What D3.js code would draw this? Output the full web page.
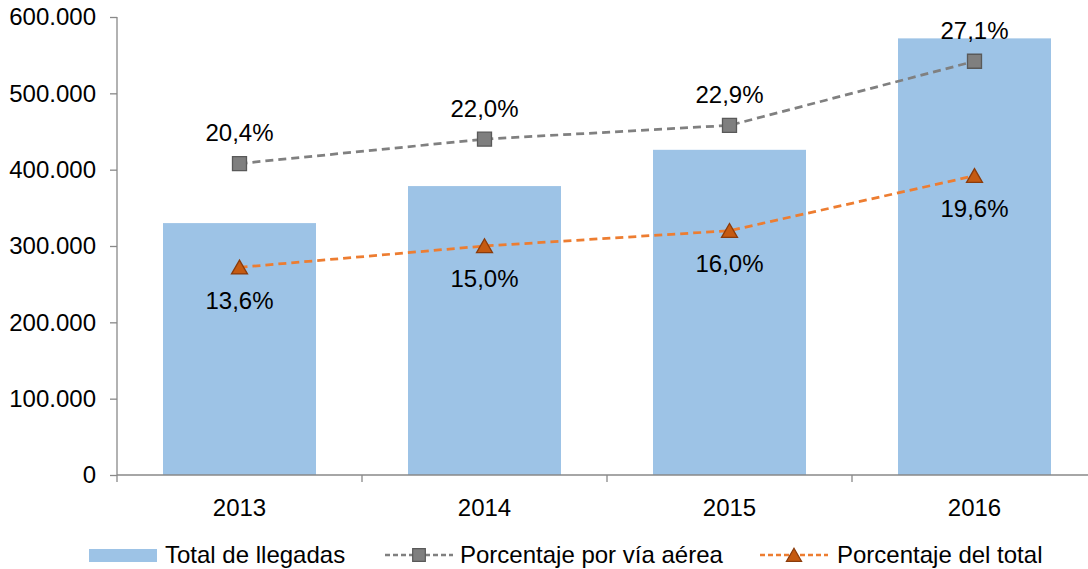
<!DOCTYPE html>
<html>
<head>
<meta charset="utf-8">
<script src="https://cdn.jsdelivr.net/npm/d3@7"></script>
<style>
  body { margin: 0; background: #fff; }
  svg { display: block; font-family: "Liberation Sans", Arial, sans-serif; }
</style>
</head>
<body>
<div id="chart"></div>
<script>
var w = 1088;
var h = 569;

var years = ["2013", "2014", "2015", "2016"];
var llegadas = [330000, 378500, 426000, 572000];
var viaAerea = [0.204, 0.220, 0.229, 0.271];
var delTotal = [0.136, 0.150, 0.160, 0.196];
var yTicks = [0, 100000, 200000, 300000, 400000, 500000, 600000];
var legendLabels = ["Total de llegadas", "Porcentaje por vía aérea", "Porcentaje del total"];

var padLeft = 117, padRight = 1097, padTop = 17, padBottom = 475;

var fmtNum = function(d) { return d3.format(",")(d).replace(/,/g, "."); };
var fmtPct = function(d) { return (d * 100).toFixed(1).replace(".", ",") + "%"; };

var xScale = d3.scaleBand()
               .domain(years)
               .range([padLeft, padRight]);

var yScale = d3.scaleLinear()
               .domain([0, 600000])
               .range([padBottom, padTop]);

var y2Scale = d3.scaleLinear()
                .domain([0, 0.30])
                .range([padBottom, padTop]);

var barW = 153;
var cx = function(d) { return xScale(d) + xScale.bandwidth() / 2; };

var svg = d3.select("#chart")
            .append("svg")
            .attr("width", w)
            .attr("height", h);

// bars
svg.append("g")
   .selectAll("rect")
   .data(years)
   .enter()
   .append("rect")
   .attr("x", function(d) { return cx(d) - barW / 2; })
   .attr("y", function(d, i) { return yScale(llegadas[i]); })
   .attr("width", barW)
   .attr("height", function(d, i) { return padBottom - yScale(llegadas[i]); })
   .attr("fill", "#9DC3E6");

// axes
var yAxis = d3.axisLeft(yScale)
              .tickValues(yTicks)
              .tickFormat(fmtNum)
              .tickSize(7)
              .tickPadding(14);

var gy = svg.append("g")
   .attr("transform", "translate(" + padLeft + ",0)")
   .call(yAxis);

var xAxis = d3.axisBottom(xScale)
              .tickSize(0)
              .tickPadding(24);

var gx = svg.append("g")
   .attr("transform", "translate(0," + padBottom + ")")
   .call(xAxis);

// category boundary ticks
gx.selectAll(".bound")
  .data(d3.range(years.length + 1))
  .enter()
  .append("line")
  .attr("class", "bound")
  .attr("x1", function(i) { return padLeft + i * xScale.step(); })
  .attr("x2", function(i) { return padLeft + i * xScale.step(); })
  .attr("y1", 0)
  .attr("y2", 7)
  .attr("stroke", "#898989")
  .attr("stroke-width", 1.3);

[gx, gy].forEach(function(g) {
  g.selectAll(".domain").attr("stroke", "#898989").attr("stroke-width", 1.3);
  g.selectAll(".tick line").attr("stroke", "#898989").attr("stroke-width", 1.3);
  g.selectAll("text")
   .attr("fill", "#000")
   .style("font-size", "24px")
   .style("font-family", "'Liberation Sans', Arial, sans-serif");
});
gy.select(".domain").attr("d", "M0," + padBottom + "V" + padTop);
gx.select(".domain").attr("d", "M" + padLeft + ",0H" + padRight);

// lines
var series = [
  {vals: viaAerea, color: "#808080", fill: "#7F7F7F", stroke: "#595959", shape: d3.symbolSquare, size: 196, dy: -31, off: 0},
  {vals: delTotal, color: "#ED7D31", fill: "#C55A11", stroke: "#8A3B0B", shape: d3.symbolTriangle, size: 110, dy: 33, off: 2}
];

series.forEach(function(s) {
  var line = d3.line()
               .x(function(d, i) { return cx(years[i]); })
               .y(function(d) { return y2Scale(d); });

  svg.append("path")
     .datum(s.vals)
     .attr("d", line)
     .attr("fill", "none")
     .attr("stroke", s.color)
     .attr("stroke-width", 2.75)
     .attr("stroke-dasharray", "8,5");

  svg.append("g")
     .selectAll("path")
     .data(s.vals)
     .enter()
     .append("path")
     .attr("d", d3.symbol().type(s.shape).size(s.size))
     .attr("transform", function(d, i) {
       return "translate(" + cx(years[i]) + "," + (y2Scale(d) + s.off) + ")";
     })
     .attr("fill", s.fill)
     .attr("stroke", s.stroke)
     .attr("stroke-width", 1.3);

  svg.append("g")
     .selectAll("text")
     .data(s.vals)
     .enter()
     .append("text")
     .attr("x", function(d, i) { return cx(years[i]); })
     .attr("y", function(d) { return y2Scale(d) + s.dy; })
     .attr("dy", "0.35em")
     .attr("text-anchor", "middle")
     .style("font-size", "24px")
     .attr("fill", "#000")
     .text(fmtPct);
});

// legend
var ly = 555;
var legend = svg.append("g");

legend.append("rect")
      .attr("x", 89)
      .attr("y", ly - 6)
      .attr("width", 68)
      .attr("height", 13)
      .attr("fill", "#9DC3E6");
legend.append("text")
      .attr("x", 165)
      .attr("y", ly)
      .attr("dy", "0.35em")
      .style("font-size", "24px")
      .text(legendLabels[0]);

var legItems = [
  {x: 385, tx: 460, s: series[0], label: legendLabels[1]},
  {x: 760, tx: 837, s: series[1], label: legendLabels[2]}
];

legItems.forEach(function(it) {
  legend.append("line")
        .attr("x1", it.x)
        .attr("x2", it.x + 68)
        .attr("y1", ly)
        .attr("y2", ly)
        .attr("stroke", it.s.color)
        .attr("stroke-width", 2.5)
        .attr("stroke-dasharray", "5,3");
  legend.append("path")
        .attr("d", d3.symbol().type(it.s.shape).size(it.s.shape === d3.symbolTriangle ? 100 : 160))
        .attr("transform", "translate(" + (it.x + 34) + "," + (ly + it.s.off) + ")")
        .attr("fill", it.s.fill)
        .attr("stroke", it.s.stroke)
        .attr("stroke-width", 1.2);
  legend.append("text")
        .attr("x", it.tx)
        .attr("y", ly)
        .attr("dy", "0.35em")
        .style("font-size", "24px")
        .text(it.label);
});
</script>
</body>
</html>
